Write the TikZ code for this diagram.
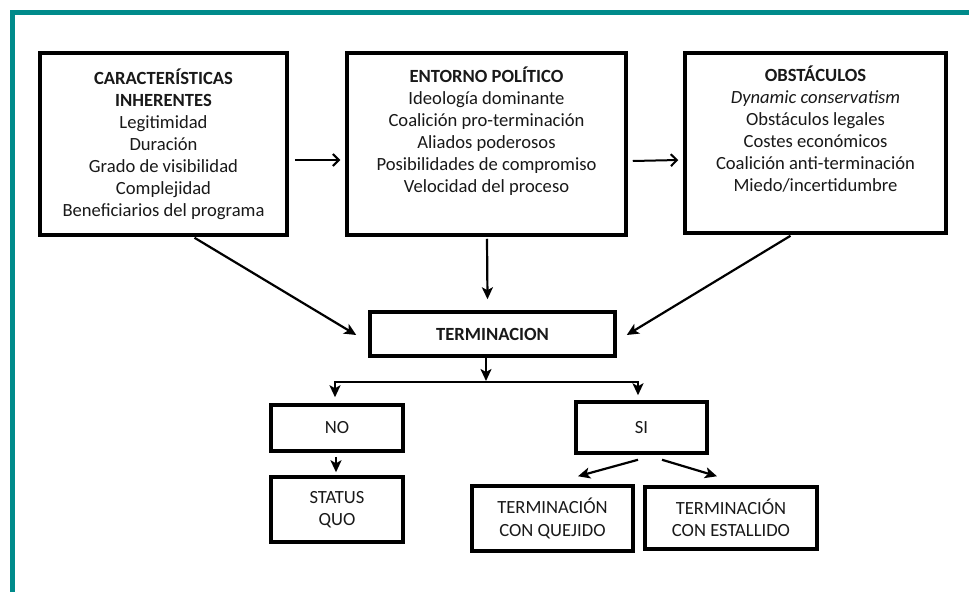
\documentclass[tikz,border=0pt]{standalone}
\usepackage{fontspec}
\setmainfont{Carlito}
\usetikzlibrary{arrows.meta}
\definecolor{teal}{RGB}{0,139,139}
\definecolor{ink}{RGB}{25,25,25}
\tikzset{
  bigbox/.style={draw=black, line width=3.5pt, rectangle, align=center, text=ink,
    font=\fontsize{18.6}{22}\selectfont, inner sep=0pt},
  smallbox/.style={draw=black, line width=3.5pt, rectangle, align=center, text=ink,
    font=\fontsize{18.6}{22.5}\selectfont, inner sep=0pt},
  arr/.style={draw=black, line width=2.2pt, -{Stealth[length=12pt,width=11pt,inset=3pt]}},
  openarr/.style={draw=black, line width=2pt, -{Straight Barb[length=6pt,width=12pt]}},
  plain/.style={draw=black, line width=2pt},
}
\begin{document}
\begin{tikzpicture}[x=1pt,y=-1pt]
\useasboundingbox (0,0) rectangle (969,592);
\fill[white] (0,0) rectangle (969,592);
% teal frame
\fill[teal] (10,10) rectangle (969,15);
\fill[teal] (10,10) rectangle (15,592);

\node[bigbox, minimum width=247pt, minimum height=182pt] (b1) at (163.5,144)
  {\textbf{CARACTERÍSTICAS}\\ \textbf{INHERENTES}\\ Legitimidad\\ Duración\\ Grado de visibilidad\\ Complejidad\\ Beneficiarios del programa};
\node[bigbox, minimum width=279pt, minimum height=182pt] (b2) at (486.5,144)
  {\textbf{ENTORNO POLÍTICO}\\ Ideología dominante\\ Coalición pro-terminación\\ Aliados poderosos\\ Posibilidades de compromiso\\ Velocidad del proceso\\ \strut};
\node[bigbox, minimum width=261pt, minimum height=180pt] (b3) at (815.5,143)
  {\textbf{OBSTÁCULOS}\\ \textit{Dynamic conservatism}\\ Obstáculos legales\\ Costes económicos\\ Coalición anti-terminación\\ Miedo/incertidumbre\\ \strut};

\node[smallbox, minimum width=245pt, minimum height=44pt] (term) at (492.5,334) {\textbf{TERMINACION}};

\node[smallbox, minimum width=132pt, minimum height=46pt] (no) at (337,428) {NO};
\node[smallbox, minimum width=132pt, minimum height=65pt] (sq) at (337,509.5) {STATUS\\ QUO};
\node[smallbox, minimum width=131pt, minimum height=51pt] (si) at (641.5,427.5) {SI};
\node[smallbox, minimum width=161pt, minimum height=65pt] (tq) at (552.5,518.5) {TERMINACIÓN\\ CON QUEJIDO};
\node[smallbox, minimum width=172pt, minimum height=62pt] (te) at (731,518) {TERMINACIÓN\\ CON ESTALLIDO};

% top horizontal arrows
\draw[openarr] ([xshift=6pt,yshift=-16pt]b1.east) -- ([xshift=-5pt,yshift=-16pt]b2.west);
\draw[openarr] ([xshift=5pt,yshift=-17pt]b2.east) -- ([xshift=-5pt,yshift=-17pt]b3.west);

% into TERMINACION
\draw[arr] ([xshift=31pt,yshift=-1pt]b1.south) -- ([xshift=-12pt,yshift=-1pt]term.west);
\draw[arr] ([xshift=0.5pt,yshift=-2pt]b2.south) -- ([xshift=-5pt,yshift=11pt]term.north);
\draw[arr] ([xshift=-25pt,yshift=-1pt]b3.south) -- ([xshift=10pt,yshift=-1pt]term.east);

% split below TERMINACION
\coordinate (split) at (486,382);
\coordinate (splitL) at (335,382);
\coordinate (splitR) at (638,382);
\draw[arr] ([xshift=-6.5pt]term.south) -- ([yshift=1pt]split);
\draw[plain] (splitL) -- (splitR);
\draw[arr] ([yshift=1pt]splitL) -- ([xshift=-2pt,yshift=6pt]no.north);
\draw[arr] ([yshift=1pt]splitR) -- ([xshift=-3.5pt,yshift=5pt]si.north);

% NO -> STATUS QUO
\draw[arr] ([xshift=-1pt,yshift=-4pt]no.south) -- ([xshift=-1pt,yshift=3pt]sq.north);

% SI -> outcomes
\draw[arr] ([xshift=-3.5pt,yshift=-5pt]si.south) -- ([xshift=25.5pt,yshift=8pt]tq.north);
\draw[arr] ([xshift=20.5pt,yshift=-5pt]si.south) -- ([xshift=-14pt,yshift=9pt]te.north);
\end{tikzpicture}
\end{document}
